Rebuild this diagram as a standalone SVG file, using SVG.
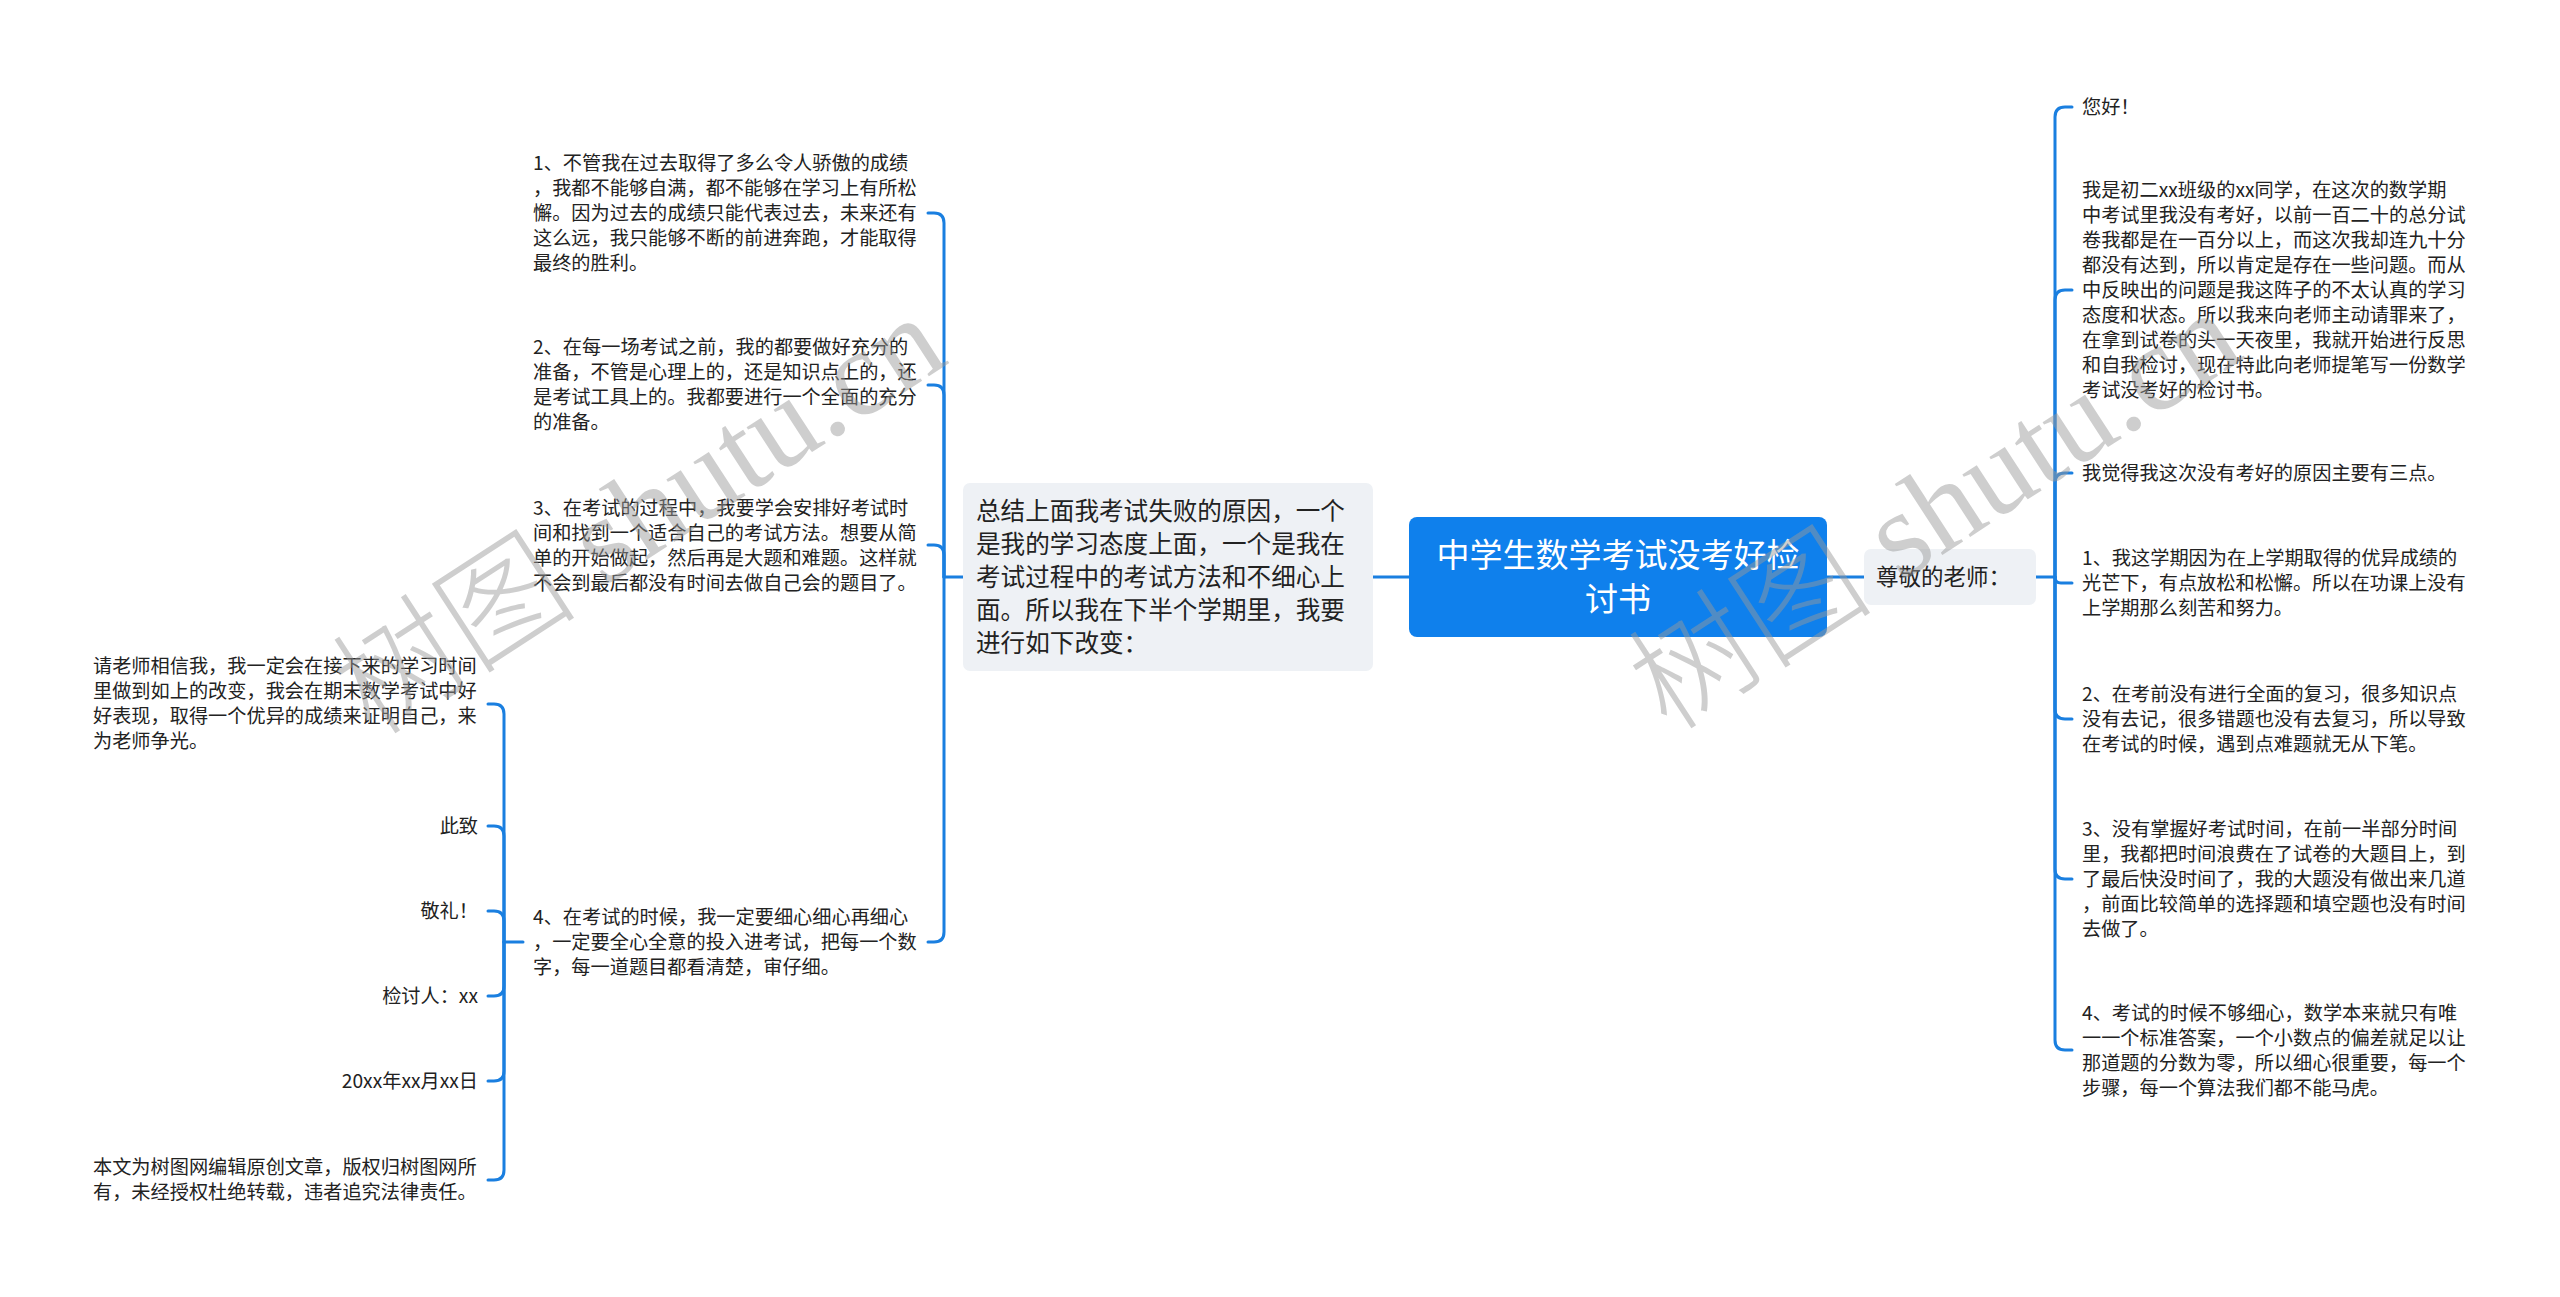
<svg xmlns="http://www.w3.org/2000/svg" width="2560" height="1297" viewBox="0 0 2560 1297">
<style>
.bg{fill:#ffffff}
.ln{fill:none;stroke:#1a7fe0;stroke-width:3;stroke-linecap:round;stroke-linejoin:round}
.t{font-family:"Noto Sans CJK SC","Noto Sans",sans-serif;fill:#222222}
.s{font-size:19.2px}
.m{font-size:24.6px}
.r{font-size:33px;fill:#ffffff}
.e{text-anchor:end}
.box{fill:#eef1f5}
.root{fill:#0f80ec}
.wm{fill:#9a9a9a;opacity:0.48}
</style>
<rect class="bg" x="0" y="0" width="2560" height="1297"/>

<g id="connectors">
<path class="ln" d="M1409 577 H1373"/>
<path class="ln" d="M1827 577 H1864"/>
<path class="ln" d="M2036 577 H2055 V117 Q2055 107 2065 107 H2072"/>
<path class="ln" d="M2055 577 V300 Q2055 290 2065 290 H2072"/>
<path class="ln" d="M2055 577 V483 Q2055 473 2065 473 H2072"/>
<path class="ln" d="M2055 577 Q2055 583 2061 583 H2072"/>
<path class="ln" d="M2055 577 V709 Q2055 719 2065 719 H2072"/>
<path class="ln" d="M2055 577 V869 Q2055 879 2065 879 H2072"/>
<path class="ln" d="M2055 577 V1040 Q2055 1050 2065 1050 H2072"/>
<path class="ln" d="M963 577 H944 V223 Q944 213 934 213 H928"/>
<path class="ln" d="M944 577 V395 Q944 385 934 385 H928"/>
<path class="ln" d="M944 577 V555 Q944 545 934 545 H928"/>
<path class="ln" d="M944 577 V932 Q944 942 934 942 H928"/>
<path class="ln" d="M523 942 H504 V714 Q504 704 494 704 H488"/>
<path class="ln" d="M504 942 V836 Q504 826 494 826 H488"/>
<path class="ln" d="M504 942 V921 Q504 911 494 911 H488"/>
<path class="ln" d="M504 942 V986 Q504 996 494 996 H488"/>
<path class="ln" d="M504 942 V1071 Q504 1081 494 1081 H488"/>
<path class="ln" d="M504 942 V1170 Q504 1180 494 1180 H488"/>
</g>

<g id="root">
<rect class="root" x="1409" y="517" width="418" height="120" rx="8"/>
<text class="t r" x="1618" y="567" text-anchor="middle">中学生数学考试没考好检</text>
<text class="t r" x="1618" y="611" text-anchor="middle">讨书</text>
</g>

<g id="n-teacher">
<rect class="box" x="1864" y="549" width="172" height="56" rx="7"/>
<text class="t" style="font-size:22.5px" x="1876" y="585">尊敬的老师：</text>
</g>

<g id="n-summary">
<rect class="box" x="963" y="483" width="410" height="188" rx="7"/>
<text class="t m" x="976" y="520">总结上面我考试失败的原因，一个</text>
<text class="t m" x="976" y="553">是我的学习态度上面，一个是我在</text>
<text class="t m" x="976" y="586">考试过程中的考试方法和不细心上</text>
<text class="t m" x="976" y="619">面。所以我在下半个学期里，我要</text>
<text class="t m" x="976" y="652">进行如下改变：</text>
</g>

<g id="r1"><text class="t s" x="2082" y="114">您好！</text></g>
<g id="r2">
<text class="t s" x="2082" y="197">我是初二xx班级的xx同学，在这次的数学期</text>
<text class="t s" x="2082" y="222">中考试里我没有考好，以前一百二十的总分试</text>
<text class="t s" x="2082" y="247">卷我都是在一百分以上，而这次我却连九十分</text>
<text class="t s" x="2082" y="272">都没有达到，所以肯定是存在一些问题。而从</text>
<text class="t s" x="2082" y="297">中反映出的问题是我这阵子的不太认真的学习</text>
<text class="t s" x="2082" y="322">态度和状态。所以我来向老师主动请罪来了，</text>
<text class="t s" x="2082" y="347">在拿到试卷的头一天夜里，我就开始进行反思</text>
<text class="t s" x="2082" y="372">和自我检讨，现在特此向老师提笔写一份数学</text>
<text class="t s" x="2082" y="397">考试没考好的检讨书。</text>
</g>
<g id="r3"><text class="t s" x="2082" y="480">我觉得我这次没有考好的原因主要有三点。</text></g>
<g id="r4">
<text class="t s" x="2082" y="565">1、我这学期因为在上学期取得的优异成绩的</text>
<text class="t s" x="2082" y="590">光芒下，有点放松和松懈。所以在功课上没有</text>
<text class="t s" x="2082" y="615">上学期那么刻苦和努力。</text>
</g>
<g id="r5">
<text class="t s" x="2082" y="701">2、在考前没有进行全面的复习，很多知识点</text>
<text class="t s" x="2082" y="726">没有去记，很多错题也没有去复习，所以导致</text>
<text class="t s" x="2082" y="751">在考试的时候，遇到点难题就无从下笔。</text>
</g>
<g id="r6">
<text class="t s" x="2082" y="836">3、没有掌握好考试时间，在前一半部分时间</text>
<text class="t s" x="2082" y="861">里，我都把时间浪费在了试卷的大题目上，到</text>
<text class="t s" x="2082" y="886">了最后快没时间了，我的大题没有做出来几道</text>
<text class="t s" x="2082" y="911">，前面比较简单的选择题和填空题也没有时间</text>
<text class="t s" x="2082" y="936">去做了。</text>
</g>
<g id="r7">
<text class="t s" x="2082" y="1020">4、考试的时候不够细心，数学本来就只有唯</text>
<text class="t s" x="2082" y="1045">一一个标准答案，一个小数点的偏差就足以让</text>
<text class="t s" x="2082" y="1070">那道题的分数为零，所以细心很重要，每一个</text>
<text class="t s" x="2082" y="1095">步骤，每一个算法我们都不能马虎。</text>
</g>

<g id="l1">
<text class="t s" x="533" y="170">1、不管我在过去取得了多么令人骄傲的成绩</text>
<text class="t s" x="533" y="195">，我都不能够自满，都不能够在学习上有所松</text>
<text class="t s" x="533" y="220">懈。因为过去的成绩只能代表过去，未来还有</text>
<text class="t s" x="533" y="245">这么远，我只能够不断的前进奔跑，才能取得</text>
<text class="t s" x="533" y="270">最终的胜利。</text>
</g>
<g id="l2">
<text class="t s" x="533" y="354">2、在每一场考试之前，我的都要做好充分的</text>
<text class="t s" x="533" y="379">准备，不管是心理上的，还是知识点上的，还</text>
<text class="t s" x="533" y="404">是考试工具上的。我都要进行一个全面的充分</text>
<text class="t s" x="533" y="429">的准备。</text>
</g>
<g id="l3">
<text class="t s" x="533" y="515">3、在考试的过程中，我要学会安排好考试时</text>
<text class="t s" x="533" y="540">间和找到一个适合自己的考试方法。想要从简</text>
<text class="t s" x="533" y="565">单的开始做起，然后再是大题和难题。这样就</text>
<text class="t s" x="533" y="590">不会到最后都没有时间去做自己会的题目了。</text>
</g>
<g id="l4">
<text class="t s" x="533" y="924">4、在考试的时候，我一定要细心细心再细心</text>
<text class="t s" x="533" y="949">，一定要全心全意的投入进考试，把每一个数</text>
<text class="t s" x="533" y="974">字，每一道题目都看清楚，审仔细。</text>
</g>

<g id="ll1">
<text class="t s" x="93" y="673">请老师相信我，我一定会在接下来的学习时间</text>
<text class="t s" x="93" y="698">里做到如上的改变，我会在期末数学考试中好</text>
<text class="t s" x="93" y="723">好表现，取得一个优异的成绩来证明自己，来</text>
<text class="t s" x="93" y="748">为老师争光。</text>
</g>
<g id="ll2"><text class="t s e" x="478" y="833">此致</text></g>
<g id="ll3"><text class="t s e" x="478" y="918">敬礼！</text></g>
<g id="ll4"><text class="t s e" x="478" y="1003">检讨人：xx</text></g>
<g id="ll5"><text class="t s e" x="478" y="1088">20xx年xx月xx日</text></g>
<g id="ll6">
<text class="t s" x="93" y="1174">本文为树图网编辑原创文章，版权归树图网所</text>
<text class="t s" x="93" y="1199">有，未经授权杜绝转载，违者追究法律责任。</text>
</g>

<g id="watermarks">
<text class="wm" transform="translate(372 738) rotate(-33)" style="font-size:123px"><tspan style="font-family:'Noto Sans CJK SC',sans-serif;font-weight:300">树图</tspan><tspan style="font-family:'Liberation Serif',serif"> shutu.cn</tspan></text>
<text class="wm" transform="translate(1668 733) rotate(-33)" style="font-size:123px"><tspan style="font-family:'Noto Sans CJK SC',sans-serif;font-weight:300">树图</tspan><tspan style="font-family:'Liberation Serif',serif"> shutu.cn</tspan></text>
</g>
</svg>
